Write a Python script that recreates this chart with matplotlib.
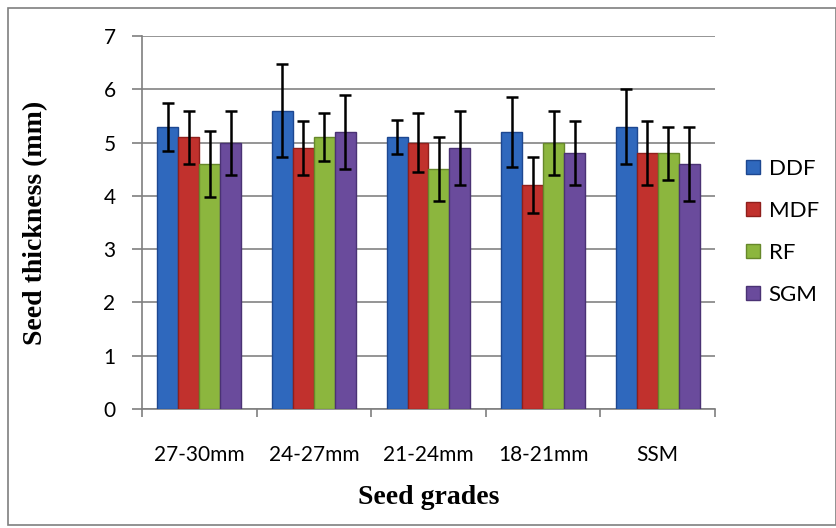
#!/usr/bin/env python3
"""Seed thickness by seed grade, grouped bars with error bars."""

import matplotlib
matplotlib.use("Agg")
import matplotlib.pyplot as plt
import numpy as np
from matplotlib.patches import Rectangle

grades = ["27-30mm", "24-27mm", "21-24mm", "18-21mm", "SSM"]
series = ["DDF", "MDF", "RF", "SGM"]

ddf = [5.3, 5.6, 5.1, 5.2, 5.3]
mdf = [5.1, 4.9, 5.0, 4.2, 4.8]
rf = [4.6, 5.1, 4.5, 5.0, 4.8]
sgm = [5.0, 5.2, 4.9, 4.8, 4.6]

ddf_err = [0.45, 0.88, 0.32, 0.65, 0.7]
mdf_err = [0.5, 0.5, 0.55, 0.52, 0.6]
rf_err = [0.62, 0.45, 0.6, 0.6, 0.5]
sgm_err = [0.6, 0.7, 0.7, 0.6, 0.7]

colors = ["#2f68bd", "#c1312d", "#8cb63e", "#6a4b9c"]
edges = ["#1d4790", "#8f1f1c", "#66882a", "#4a3274"]


def main() -> int:
    fig = plt.figure(figsize=(8.37, 5.28), dpi=100)
    fig.patches.append(
        Rectangle((8 / 837, 3 / 528), 828 / 837, 517 / 528, transform=fig.transFigure,
                  fill=False, edgecolor="#7f7f7f", linewidth=1.2)
    )
    ax = fig.add_axes([142 / 837, 1 - 409 / 528, (715 - 142) / 837, (409 - 36) / 528])

    values = [ddf, mdf, rf, sgm]
    errs = [ddf_err, mdf_err, rf_err, sgm_err]
    x = np.arange(len(grades))
    width = 0.183
    for i, (name, vals, err) in enumerate(zip(series, values, errs)):
        pos = x + (i - 1.5) * width
        ax.bar(pos, vals, width, color=colors[i], edgecolor=edges[i], linewidth=1.0,
               label=name, zorder=3)
        ax.errorbar(pos, vals, yerr=err, fmt="none", ecolor="black", elinewidth=1.8,
                    capsize=4, capthick=1.8, zorder=4)

    ax.set_xlim(-0.5, len(grades) - 0.5)
    ax.set_ylim(0, 7)
    ax.set_yticks(range(0, 8))
    ax.yaxis.grid(True, color="#8c8c8c", linewidth=1.3, zorder=0)
    ax.set_axisbelow(True)

    ax.set_xticks(x)
    ax.set_xticklabels(grades, fontsize=15, family="Lato")
    ax.tick_params(axis="x", length=0, pad=26)
    ax.set_xticks(np.arange(-0.5, len(grades)), minor=True)
    ax.tick_params(axis="x", which="minor", length=6, color="#7f7f7f", width=1.2)
    ax.tick_params(axis="y", length=7, color="#7f7f7f", width=1.2, labelsize=15, pad=12)
    for lab in ax.get_yticklabels():
        lab.set_family("Lato")

    for side in ("top", "right"):
        ax.spines[side].set_visible(False)
    for side in ("left", "bottom"):
        ax.spines[side].set_color("#7f7f7f")
        ax.spines[side].set_linewidth(1.2)

    ax.set_ylabel("Seed thickness (mm)", fontsize=20, fontweight="bold",
                  family="Liberation Serif", labelpad=40)
    ax.set_xlabel("Seed grades", fontsize=20, fontweight="bold",
                  family="Liberation Serif", labelpad=14)

    ax.legend(loc="upper left", bbox_to_anchor=(1.02, 0.725), frameon=False,
              prop={"family": "Lato", "size": 16}, handlelength=0.6, handleheight=0.6,
              handletextpad=0.4, labelspacing=1.0)

    fig.savefig("out.png", dpi=100)
    plt.close(fig)
    return 0


if __name__ == "__main__":
    raise SystemExit(main())
